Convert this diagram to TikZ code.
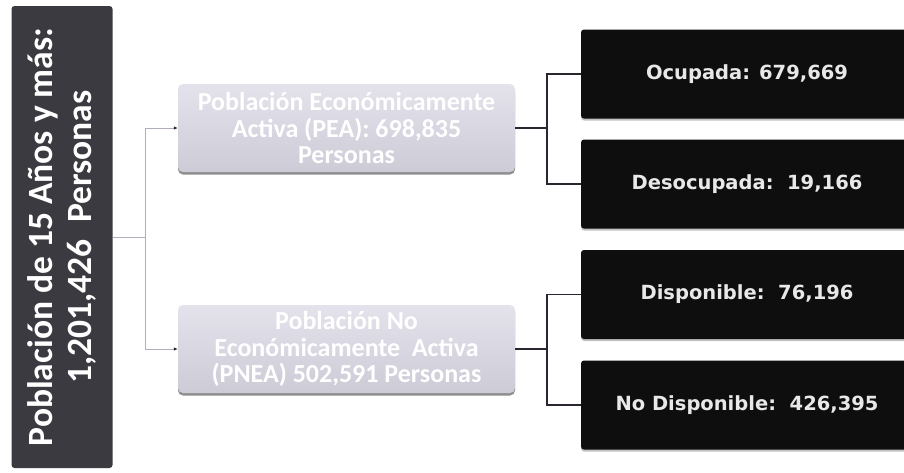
\documentclass[tikz,border=0pt]{standalone}
\usepackage{fontspec}
\setmainfont{Carlito}
\newfontfamily\dvs{DejaVu Sans}
\usetikzlibrary{shadows,arrows.meta}
\definecolor{leftfill}{HTML}{3B3A40}
\definecolor{lighttop}{HTML}{E4E2EB}
\definecolor{lightbot}{HTML}{CDCBD6}
\definecolor{darkfill}{HTML}{0E0E0E}
\definecolor{darktext}{HTML}{E8E8E8}
\definecolor{thinline}{HTML}{B4ACBC}
\definecolor{thickline}{HTML}{2B2530}
\tikzset{
  leftbox/.style={fill=leftfill, rounded corners=3pt, inner sep=0pt, text=white, align=center,
    font=\bfseries\fontsize{35.5}{39}\selectfont},
  lightbox/.style={top color=lighttop, bottom color=lightbot, rounded corners=5pt, inner sep=0pt,
    minimum width=337pt, minimum height=88pt, text=white, align=center,
    font=\bfseries\fontsize{26}{26.5}\selectfont,
    drop shadow={shadow xshift=0pt, shadow yshift=-2.5pt, fill=black!55, opacity=0.8}},
  darkbox/.style={fill=darkfill, rounded corners=3pt, inner sep=0pt, minimum width=332pt,
    minimum height=89pt, text=darktext, font=\dvs\bfseries\fontsize{19.5}{22}\selectfont,
    drop shadow={shadow xshift=0pt, shadow yshift=-2pt, fill=black!40, opacity=0.6}},
  thinconn/.style={draw=thinline, line width=0.9pt},
  thintip/.style={-{Latex[length=4pt,width=3.5pt,color=thickline]}},
  thickconn/.style={draw=thickline, line width=1.6pt}
}
\begin{document}
\begin{tikzpicture}[x=1pt,y=-1pt]
\useasboundingbox (0,0) rectangle (904,472);
\fill[white] (0,0) rectangle (904,472);

\node[leftbox, rotate=90, minimum width=462pt, minimum height=101pt] (L) at (62,237)
  {Población de 15 Años y más:\\1,201,426\ \ Personas};

\node[lightbox] (PEA) at (346.5,128) {Población Económicamente\\Activa (PEA): 698,835\\Personas};
\node[lightbox] (PNEA) at (346.5,349) {Población No\\Económicamente\ \ Activa\\(PNEA) 502,591 Personas};

\node[darkbox] (O) at (747,74) {Ocupada: 679,669};
\node[darkbox] (D) at (747,184) {Desocupada:\ \ 19,166};
\node[darkbox] (Di) at (747,294.5) {Disponible:\ \ 76,196};
\node[darkbox] (ND) at (747,405) {No Disponible:\ \ 426,395};

\path (L.south) ++(33,0) coordinate (j1);
\path (PEA.east) ++(32,0) coordinate (j2);
\path (PNEA.east) ++(32,0) coordinate (j3);

\draw[thinconn] (L.south) -- (j1);
\draw[thinconn, thintip] (j1) |- (PEA.west);
\draw[thinconn, thintip] (j1) |- (PNEA.west);

\draw[thickconn] (PEA.east) -- (j2);
\draw[thickconn] (O.west) -| (j2) |- (D.west);
\draw[thickconn] (PNEA.east) -- (j3);
\draw[thickconn] (Di.west) -| (j3) |- (ND.west);
\end{tikzpicture}
\end{document}
